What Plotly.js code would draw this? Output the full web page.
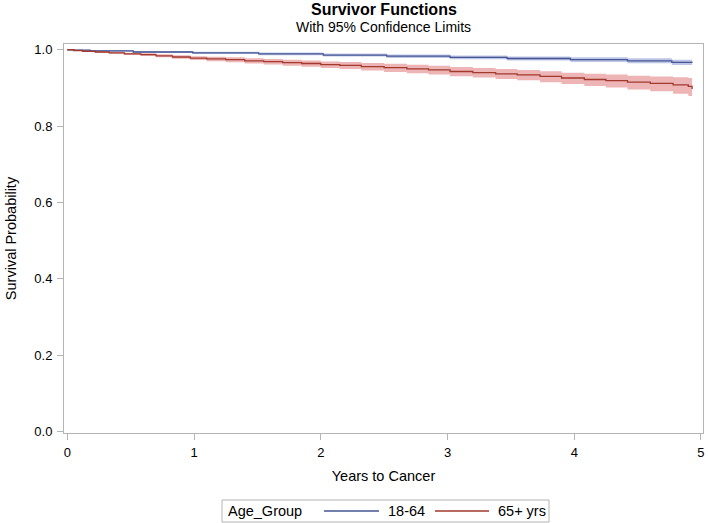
<!DOCTYPE html>
<html>
<head>
<meta charset="utf-8">
<script src="https://cdn.plot.ly/plotly-3.0.1.min.js"></script>
<style>
  html, body { margin: 0; padding: 0; background: #fff; }
  #chart { width: 708px; height: 523px; }
</style>
</head>
<body>
<div id="chart"></div>
<script>
// Group labels
const legendTitle = "Age_Group";
const groups = ["18-64", "65+ yrs"];

// 18-64 group: step times, survival estimate, 95% CL
const blueT     = [0, 0.05, 0.18, 0.52, 0.99, 1.51, 2.02, 2.52, 3.02, 3.47, 3.97, 4.42, 4.77, 4.93];
const blueS     = [1.000, 0.999, 0.997, 0.994, 0.992, 0.989, 0.986, 0.983, 0.980, 0.977, 0.974, 0.971, 0.967, 0.966];
const blueUpper = [1.000, 1.000, 0.999, 0.9965, 0.995, 0.9925, 0.990, 0.9875, 0.985, 0.9825, 0.980, 0.9775, 0.974, 0.974];
const blueLower = [1.000, 0.998, 0.995, 0.9915, 0.989, 0.9855, 0.982, 0.9785, 0.975, 0.9715, 0.968, 0.9645, 0.960, 0.958];

// 65+ group: step times, survival estimate, 95% CL
const redT     = [0, 0.05, 0.12, 0.22, 0.33, 0.45, 0.58, 0.70, 0.83, 0.97, 1.10, 1.25, 1.40, 1.55, 1.70, 1.85, 2.00, 2.15, 2.32, 2.50, 2.68, 2.85, 3.02, 3.20, 3.38, 3.55, 3.73, 3.90, 4.08, 4.25, 4.42, 4.60, 4.78, 4.90, 4.93];
const redS     = [1.000, 0.998, 0.996, 0.994, 0.992, 0.989, 0.987, 0.984, 0.981, 0.978, 0.976, 0.974, 0.971, 0.969, 0.966, 0.964, 0.961, 0.959, 0.956, 0.953, 0.950, 0.947, 0.943, 0.940, 0.937, 0.934, 0.930, 0.926, 0.922, 0.919, 0.915, 0.912, 0.908, 0.904, 0.897];
const redUpper = [1.000, 0.999, 0.9975, 0.996, 0.9945, 0.992, 0.9905, 0.988, 0.9855, 0.983, 0.9815, 0.980, 0.9775, 0.976, 0.9735, 0.972, 0.9695, 0.968, 0.9655, 0.963, 0.9605, 0.958, 0.9545, 0.952, 0.9495, 0.947, 0.9435, 0.940, 0.937, 0.935, 0.932, 0.930, 0.928, 0.926, 0.921];
const redLower = [1.000, 0.997, 0.9945, 0.992, 0.9895, 0.986, 0.9835, 0.980, 0.9765, 0.973, 0.970, 0.9675, 0.964, 0.9615, 0.958, 0.9555, 0.952, 0.9495, 0.9455, 0.942, 0.9385, 0.935, 0.9305, 0.927, 0.9235, 0.920, 0.915, 0.910, 0.905, 0.901, 0.896, 0.891, 0.885, 0.879, 0.869];

// Axis ticks
const xTicks = [0, 1, 2, 3, 4, 5];
const yTicks = [0.0, 0.2, 0.4, 0.6, 0.8, 1.0];

const FONT = "Liberation Sans, Arial, sans-serif";
const GRAY = "#b4b4b4";
const blueLine = "#445694", blueFill = "rgba(111,126,200,0.45)";
const redLine = "#A23A2E", redFill = "rgba(214,91,91,0.45)";

const traces = [
  {x: blueT, y: blueLower, mode: "lines", line: {shape: "hv", width: 0}, showlegend: false, hoverinfo: "skip"},
  {x: blueT, y: blueUpper, mode: "lines", line: {shape: "hv", width: 0}, fill: "tonexty", fillcolor: blueFill, showlegend: false, hoverinfo: "skip"},
  {x: redT, y: redLower, mode: "lines", line: {shape: "hv", width: 0}, showlegend: false, hoverinfo: "skip"},
  {x: redT, y: redUpper, mode: "lines", line: {shape: "hv", width: 0}, fill: "tonexty", fillcolor: redFill, showlegend: false, hoverinfo: "skip"},
  {x: blueT, y: blueS, name: groups[0], mode: "lines", line: {shape: "hv", width: 1.3, color: blueLine}, showlegend: false},
  {x: redT, y: redS, name: groups[1], mode: "lines", line: {shape: "hv", width: 1.3, color: redLine}, showlegend: false}
];

// Legend drawn as a boxed key below the plot (paper coordinates)
const legY = -0.2005;
const shapes = [
  {type: "rect", xref: "paper", yref: "paper", x0: 0.2473, x1: 0.7590, y0: -0.2288, y1: -0.1722, line: {color: GRAY, width: 1}, fillcolor: "rgba(0,0,0,0)"},
  {type: "line", xref: "paper", yref: "paper", x0: 0.4069, x1: 0.4930, y0: legY, y1: legY, line: {color: blueLine, width: 1.3}},
  {type: "line", xref: "paper", yref: "paper", x0: 0.5806, x1: 0.6651, y0: legY, y1: legY, line: {color: redLine, width: 1.3}}
];

const annotations = [
  {text: "<b>Survivor Functions</b>", xref: "paper", yref: "paper", x: 0.5, y: 1, xanchor: "center", yanchor: "middle", yshift: 35, showarrow: false, font: {size: 16, family: FONT}},
  {text: "With 95% Confidence Limits", xref: "paper", yref: "paper", x: 0.5, y: 1, xanchor: "center", yanchor: "middle", yshift: 17, showarrow: false, font: {size: 14, family: FONT}},
  {text: legendTitle, xref: "paper", yref: "paper", x: 0.2535, y: legY, xanchor: "left", yanchor: "middle", showarrow: false, font: {size: 14.5, family: FONT}},
  {text: groups[0], xref: "paper", yref: "paper", x: 0.5039, y: legY, xanchor: "left", yanchor: "middle", showarrow: false, font: {size: 14.5, family: FONT}},
  {text: groups[1], xref: "paper", yref: "paper", x: 0.6761, y: legY, xanchor: "left", yanchor: "middle", showarrow: false, font: {size: 14.5, family: FONT}}
];

const layout = {
  width: 708, height: 523,
  margin: {l: 64, r: 5, t: 44, b: 90},
  paper_bgcolor: "#fff", plot_bgcolor: "#fff",
  font: {family: FONT, color: "#000", size: 13},
  showlegend: false,
  shapes: shapes,
  annotations: annotations,
  xaxis: {
    range: [-0.026, 5.016], tickvals: xTicks, ticktext: xTicks.map(String),
    automargin: false,
    showgrid: false, zeroline: false, showline: true, mirror: true, linecolor: GRAY, linewidth: 1,
    ticks: "outside", ticklen: 6, tickcolor: GRAY, tickfont: {size: 13}, ticklabelstandoff: 1,
    title: {text: "Years to Cancer", font: {size: 14.5}, standoff: 12}
  },
  yaxis: {
    range: [-0.0034, 1.015], tickvals: yTicks, ticktext: yTicks.map(v => v.toFixed(1)),
    automargin: false,
    showgrid: false, zeroline: false, showline: true, mirror: true, linecolor: GRAY, linewidth: 1,
    ticks: "outside", ticklen: 6, tickcolor: GRAY, tickfont: {size: 13}, ticklabelstandoff: 2,
    title: {text: "Survival Probability", font: {size: 14.5}, standoff: 14}
  }
};

Plotly.newPlot("chart", traces, layout, {displayModeBar: false, staticPlot: true});
</script>
</body>
</html>
